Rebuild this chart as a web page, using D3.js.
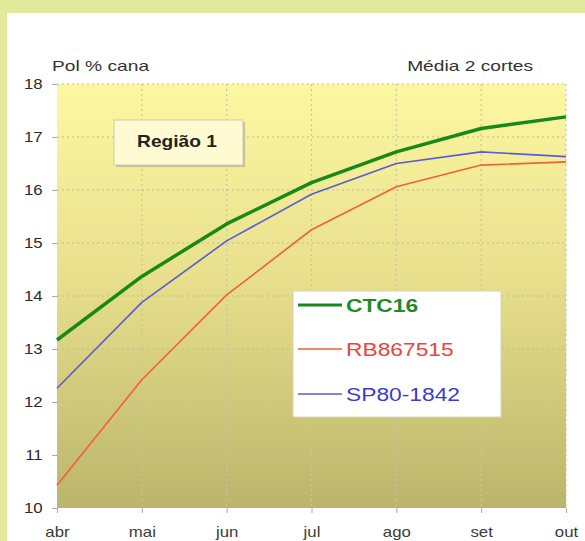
<!DOCTYPE html>
<html>
<head>
<meta charset="utf-8">
<script src="https://cdn.jsdelivr.net/npm/d3@7"></script>
<style>
  body { margin: 0; background: #e3e99b; }
  svg { display: block; }
</style>
</head>
<body>
<svg id="chart" width="585" height="541"></svg>
<script>
// ---------- data ----------
var months = ["abr", "mai", "jun", "jul", "ago", "set", "out"];
var ctc16 = [13.17, 14.37, 15.36, 16.14, 16.72, 17.16, 17.38];
var rb867515 = [10.43, 12.42, 14.02, 15.25, 16.06, 16.47, 16.53];
var sp801842 = [12.26, 13.88, 15.04, 15.92, 16.50, 16.72, 16.63];
var yTicks = [10, 11, 12, 13, 14, 15, 16, 17, 18];

var series = [
	{ name: "CTC16", values: ctc16, color: "#188818", text: "#1f8a2a", width: 3.5, bold: true },
	{ name: "RB867515", values: rb867515, color: "#f0603a", text: "#e8453c", width: 1.6, bold: false },
	{ name: "SP80-1842", values: sp801842, color: "#5a5ad6", text: "#3a3ad0", width: 1.6, bold: false }
];

var FONT = "Liberation Sans, Arial, sans-serif";
var svg = d3.select("#chart");

// text drawn wider than normal, like the original picture
function wideText(parent, x, y, sx, txt) {
	return parent.append("text")
		.attr("transform", "translate(" + x + "," + y + ") scale(" + sx + ",1)")
		.attr("font-family", FONT)
		.text(txt);
}

// white panel
svg.append("rect")
	.attr("x", 7).attr("y", 13)
	.attr("width", 578).attr("height", 528)
	.attr("fill", "#ffffff");

var plotLeft = 57, plotRight = 566, plotTop = 84, plotBottom = 508;

var x = d3.scalePoint().domain(months).range([plotLeft, plotRight]);
var y = d3.scaleLinear().domain([10, 18]).range([plotBottom, plotTop]);

// plot gradient
var defs = svg.append("defs");
var grad = defs.append("linearGradient")
	.attr("id", "bg").attr("x1", 0).attr("y1", 0).attr("x2", 0).attr("y2", 1);
grad.append("stop").attr("offset", "0%").attr("stop-color", "#fdf7a2");
grad.append("stop").attr("offset", "45%").attr("stop-color", "#e8e08c");
grad.append("stop").attr("offset", "100%").attr("stop-color", "#bbb56c");

svg.append("rect")
	.attr("x", plotLeft).attr("y", plotTop)
	.attr("width", plotRight - plotLeft).attr("height", plotBottom - plotTop)
	.attr("fill", "url(#bg)");

// grid
svg.append("g").selectAll("line")
	.data(yTicks.slice(1))
	.join("line")
	.attr("x1", plotLeft).attr("x2", plotRight)
	.attr("y1", function(d) { return y(d); })
	.attr("y2", function(d) { return y(d); })
	.attr("stroke", "#bdb99e")
	.attr("stroke-width", 1.2)
	.attr("stroke-dasharray", "2,3");

svg.append("g").selectAll("line")
	.data(months.slice(1))
	.join("line")
	.attr("x1", function(d) { return x(d); })
	.attr("x2", function(d) { return x(d); })
	.attr("y1", plotTop).attr("y2", plotBottom)
	.attr("stroke", "#c8c4a6")
	.attr("stroke-width", 1.2)
	.attr("stroke-dasharray", "2,3");

// axes
var yAxis = svg.append("g")
	.attr("transform", "translate(" + plotLeft + ",0)")
	.call(d3.axisLeft(y).tickValues(yTicks).tickSize(5).tickPadding(7));
yAxis.select(".domain").remove();
yAxis.selectAll("line").attr("stroke", "#aaaaaa");
yAxis.selectAll("text")
	.attr("transform", "scale(1.2,1)")
	.attr("font-family", FONT)
	.attr("font-size", "14px")
	.attr("fill", "#2a2a2a");

var xAxis = svg.append("g")
	.attr("transform", "translate(0," + plotBottom + ")")
	.call(d3.axisBottom(x).tickSize(5).tickPadding(14));
xAxis.select(".domain").remove();
xAxis.selectAll("line").attr("stroke", "#aaaaaa");
xAxis.selectAll("text")
	.attr("transform", "scale(1.2,1)")
	.attr("font-family", FONT)
	.attr("font-size", "14px")
	.attr("fill", "#3a3a3a");

// lines
var line = d3.line()
	.x(function(d, i) { return x(months[i]); })
	.y(function(d) { return y(d); });

series.slice().reverse().forEach(function(s) {
	svg.append("path")
		.datum(s.values)
		.attr("d", line)
		.attr("fill", "none")
		.attr("stroke", s.color)
		.attr("stroke-width", s.width)
		.attr("stroke-linejoin", "round");
});

// titles
wideText(svg, 52, 71, 1.28, "Pol % cana")
	.attr("font-size", "15px")
	.attr("fill", "#333333");

wideText(svg, 533, 71, 1.28, "Média 2 cortes")
	.attr("text-anchor", "end")
	.attr("font-size", "15px")
	.attr("fill", "#333333");

// region box
svg.append("rect")
	.attr("x", 116).attr("y", 122)
	.attr("width", 129).attr("height", 45)
	.attr("fill", "#c4bf98");
svg.append("rect")
	.attr("x", 114).attr("y", 120)
	.attr("width", 129).attr("height", 45)
	.attr("fill", "#fefbd2")
	.attr("stroke", "#cfcbab")
	.attr("stroke-width", 1);

wideText(svg, 177, 147, 1.2, "Região 1")
	.attr("text-anchor", "middle")
	.attr("font-size", "16px")
	.attr("font-weight", "bold")
	.attr("fill", "#222222");

// legend
var legend = svg.append("g");
legend.append("rect")
	.attr("x", 293).attr("y", 291)
	.attr("width", 208).attr("height", 126)
	.attr("fill", "#ffffff")
	.attr("stroke", "#d8d4b0")
	.attr("stroke-width", 1);

var legendRows = [305, 349, 394];
series.forEach(function(s, i) {
	legend.append("line")
		.attr("x1", 298).attr("x2", 342)
		.attr("y1", legendRows[i]).attr("y2", legendRows[i])
		.attr("stroke", s.color)
		.attr("stroke-width", s.bold ? 3 : 1.5);
	wideText(legend, 346, legendRows[i] + 7, 1.2, s.name)
		.attr("font-size", "19px")
		.attr("font-weight", s.bold ? "bold" : "normal")
		.attr("fill", s.text);
});
</script>
</body>
</html>
